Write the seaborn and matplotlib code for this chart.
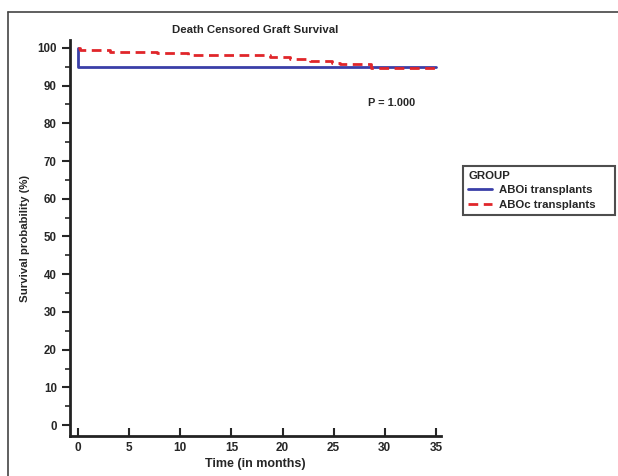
import pandas as pd
import matplotlib.pyplot as plt
import seaborn as sns
from matplotlib.lines import Line2D
from matplotlib.ticker import MultipleLocator

# step points
aboi_time = [0, 0.02, 35]
aboi_surv = [100, 95, 95]
aboc_time = [0, 0.2, 3.1, 7.7, 10.8, 14.2, 18.8, 20.7, 22.7, 24.8, 25.6, 28.7, 35]
aboc_surv = [100, 99.5, 98.9, 98.6, 98.2, 98.0, 97.5, 97.0, 96.6, 96.1, 95.7, 94.8, 94.8]
groups = ["ABOi transplants", "ABOc transplants"]
colors = ["#3a3fa8", "#e0262a"]
dash = (3.5, 2)

df = pd.concat([
    pd.DataFrame({"time": aboi_time, "surv": aboi_surv, "group": groups[0]}),
    pd.DataFrame({"time": aboc_time, "surv": aboc_surv, "group": groups[1]}),
])

sns.set_style("ticks")
plt.rcParams["font.family"] = ["Liberation Sans", "DejaVu Sans"]
plt.rcParams["font.weight"] = "bold"

fig = plt.figure(figsize=(6.18, 4.76), dpi=100)
ax = fig.add_axes([0.1133, 0.084, 0.6003, 0.832])

sns.lineplot(data=df, x="time", y="surv", hue="group", style="group",
             palette=dict(zip(groups, colors)),
             dashes={groups[0]: "", groups[1]: dash},
             estimator=None, sort=False, drawstyle="steps-post",
             linewidth=2, ax=ax, legend=False)

ax.set_xlim(-0.78, 35.5)
ax.set_ylim(-2.9, 102.1)
ax.set_xticks(range(0, 36, 5))
ax.set_yticks(range(0, 101, 10))
ax.yaxis.set_minor_locator(MultipleLocator(5))
ax.tick_params(axis="x", direction="in", length=6, width=1.5, labelsize=8.5, pad=4)
ax.tick_params(axis="y", which="major", direction="out", length=6, width=1.5, labelsize=8.3)
ax.tick_params(axis="y", which="minor", direction="out", length=3.5, width=1.2)
for lbl in ax.get_xticklabels() + ax.get_yticklabels():
    lbl.set_fontweight("bold")
for side in ["top", "right"]:
    ax.spines[side].set_visible(False)
for side in ["left", "bottom"]:
    ax.spines[side].set_linewidth(2)
    ax.spines[side].set_color("#222222")

ax.set_xlabel("Time (in months)", fontsize=9, fontweight="bold", labelpad=3)
ax.set_ylabel("Survival probability (%)", fontsize=8.2, fontweight="bold", labelpad=5)
ax.set_title("Death Censored Graft Survival", fontsize=8.2, fontweight="bold", pad=5)
ax.text(28.4, 85.5, "P = 1.000", fontsize=7.9, fontweight="bold", va="center")

handles = [Line2D([], [], color=colors[0], lw=2),
           Line2D([], [], color=colors[1], lw=2, dashes=dash)]
leg = fig.legend(handles, groups, title="GROUP", loc="upper left",
                 bbox_to_anchor=(0.749, 0.0, 0.246, 0.652), mode="expand",
                 borderaxespad=0, frameon=True, fancybox=False,
                 edgecolor="#222222", fontsize=8.2, title_fontsize=8.2,
                 handlelength=2.1, handletextpad=0.6, borderpad=0.45,
                 labelspacing=0.4, alignment="left")
leg.get_frame().set_linewidth(1.5)
leg.get_title().set_fontweight("bold")
for t in leg.get_texts():
    t.set_fontweight("bold")

# partial frame round the figure
fig.add_artist(Line2D([0.013, 1.0], [0.975, 0.975], color="#444444", lw=1.2))
fig.add_artist(Line2D([0.013, 0.013], [0.0, 0.975], color="#444444", lw=1.2))

fig.savefig("out.png", dpi=100)
